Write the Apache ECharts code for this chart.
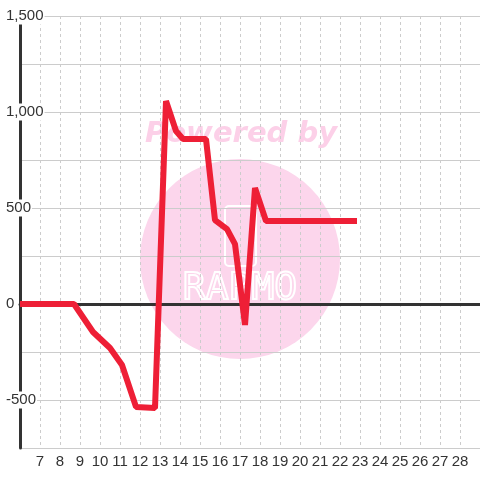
<!DOCTYPE html>
<html>
<head>
<meta charset="utf-8">
<script src="https://cdn.jsdelivr.net/npm/echarts@6/dist/echarts.min.js"></script>
<style>
  html, body { margin: 0; padding: 0; background: #fff; }
  #chart { width: 480px; height: 480px; }
</style>
</head>
<body>
<div id="chart"></div>
<script>
// x positions (hours) and values
const xs = [6, 8.7, 9.65, 10.5, 11.1, 11.8, 12.75, 13.3, 13.8, 14.15, 15.3, 15.75, 16.35, 16.75, 17.25, 17.75, 18.3, 22.85];
const values = [0, 0, -146, -229, -318, -536, -542, 1057, 901, 859, 859, 437, 390, 312, -109, 604, 432, 432];

const xMin = 6, xMax = 29;
const yMin = -750, yMax = 1500;

const chart = echarts.init(document.getElementById('chart'));

const labelFont = { fontFamily: 'Liberation Sans, Arial, sans-serif', fontSize: 15, color: '#333' };

function fmtY(v) {
  if (v % 500 !== 0) return '';
  const s = Math.abs(v).toString().replace(/\B(?=(\d{3})+(?!\d))/g, ',');
  return (v < 0 ? '-' : '') + s;
}

chart.setOption({
  backgroundColor: '#fff',
  animation: false,
  grid: { left: 20, right: 0, top: 16, bottom: 32 },
  graphic: [
    {
      type: 'circle', z: -10, silent: true,
      shape: { cx: 240, cy: 259, r: 100 },
      style: { fill: '#fcd6ec' }
    },
    {
      type: 'text', z: -10, silent: true,
      x: 241, y: 134,
      style: {
        text: 'Powered by', fill: '#fcd0e8', align: 'center', verticalAlign: 'middle',
        font: 'italic bold 29px "DejaVu Sans", sans-serif'
      }
    },
    {
      type: 'rect', z: -9, silent: true,
      shape: { x: 225, y: 206, width: 31, height: 60, r: 4 },
      style: { fill: 'none', stroke: '#fff', lineWidth: 2 }
    },
    {
      type: 'text', z: -9, silent: true,
      x: 240, y: 289,
      style: {
        text: 'RAPMO', fill: 'none', stroke: '#fff', lineWidth: 2, align: 'center', verticalAlign: 'middle',
        font: '38px "DejaVu Sans Mono", monospace'
      }
    }
  ],
  xAxis: [
    {
      type: 'value', min: xMin, max: xMax, interval: 1,
      axisLine: { show: false, onZero: false },
      axisTick: { show: false },
      axisLabel: Object.assign({ margin: 6, showMinLabel: false, showMaxLabel: false }, labelFont),
      splitLine: { show: true, lineStyle: { color: '#ccc', type: [3, 3], width: 1 } }
    },
    {
      type: 'value', min: xMin, max: xMax, position: 'top',
      axisLine: { show: true, onZero: true, lineStyle: { color: '#333', width: 3 } },
      axisTick: { show: false },
      axisLabel: { show: false },
      splitLine: { show: false }
    }
  ],
  yAxis: {
    type: 'value', min: yMin, max: yMax, interval: 250,
    axisLine: { show: true, lineStyle: { color: '#333', width: 3 } },
    axisTick: { show: false },
    axisLabel: Object.assign({
      formatter: fmtY, align: 'left', margin: 15,
      backgroundColor: '#fff', padding: [1, 1]
    }, labelFont),
    splitLine: { show: true, lineStyle: { color: '#ccc', width: 1 } }
  },
  series: [{
    type: 'line',
    xAxisIndex: 0,
    data: xs.map((x, i) => [x, values[i]]),
    symbol: 'none',
    lineStyle: { color: '#ee1f36', width: 6 },
    z: 5
  }]
});
</script>
</body>
</html>
